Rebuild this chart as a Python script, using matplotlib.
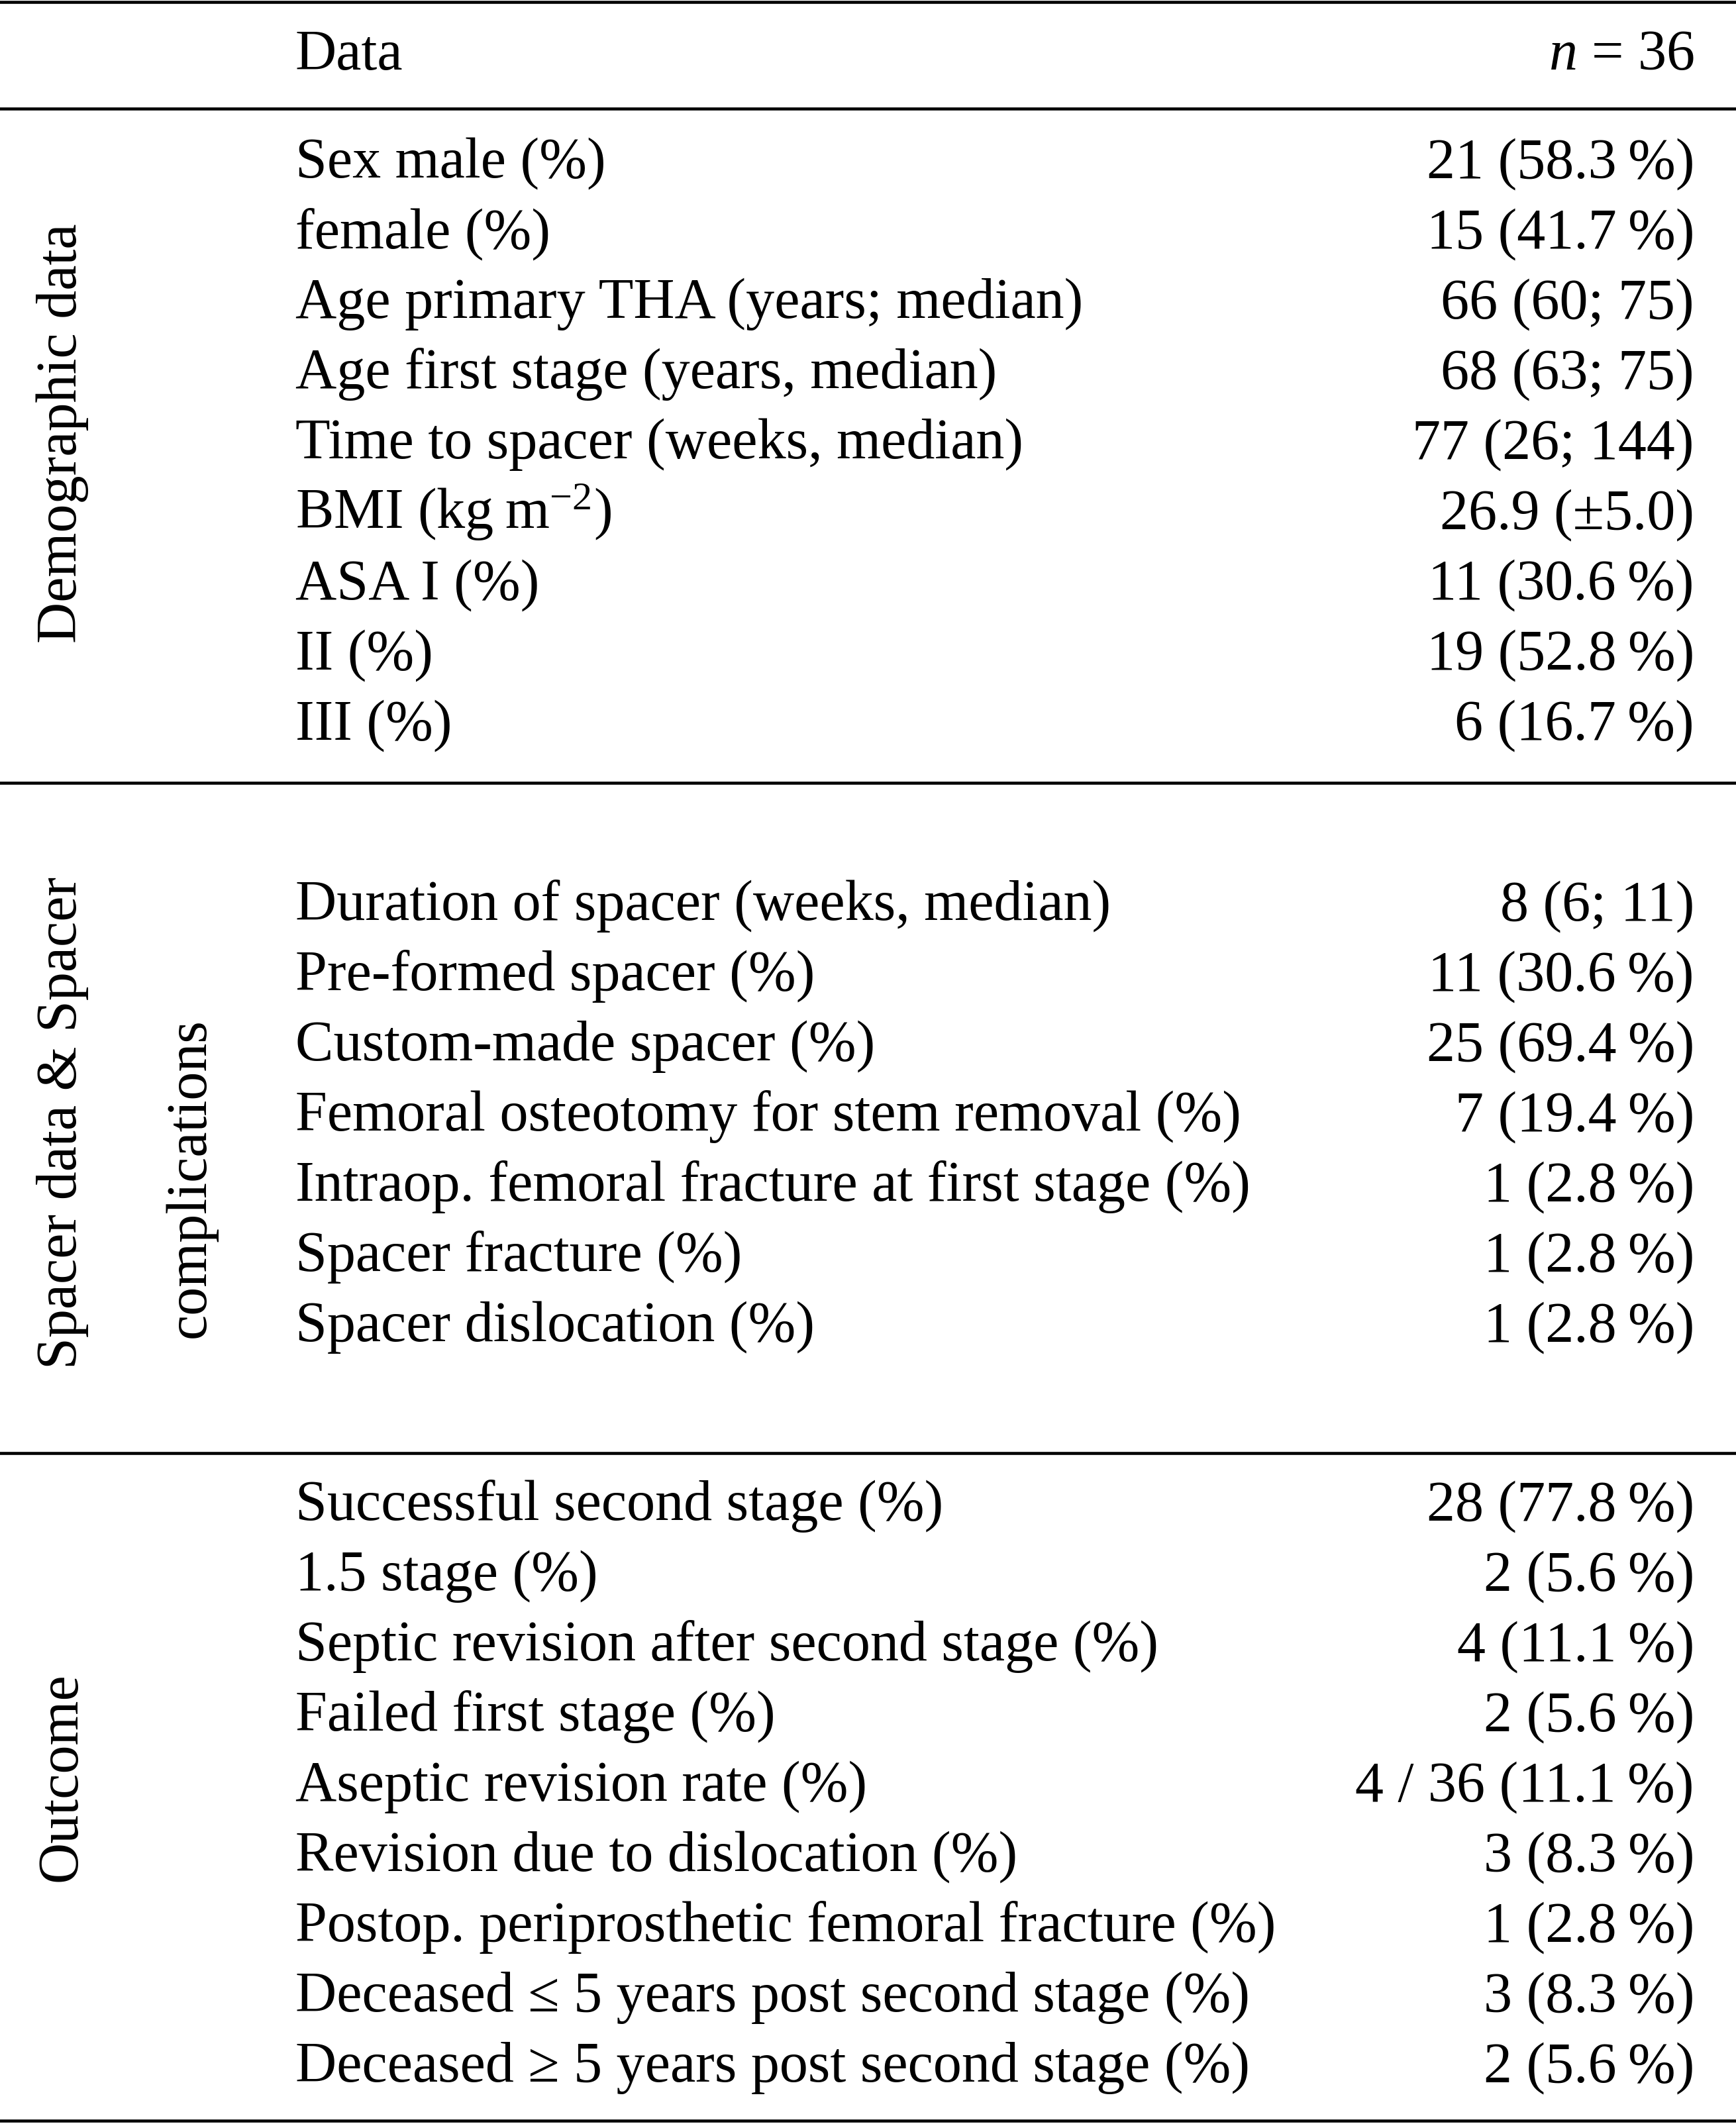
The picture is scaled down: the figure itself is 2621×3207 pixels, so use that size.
import matplotlib.pyplot as plt

plt.rcParams['font.family'] = ['Liberation Serif', 'DejaVu Serif']
plt.rcParams['mathtext.fontset'] = 'custom'
plt.rcParams['mathtext.rm'] = 'Liberation Serif'
plt.rcParams['mathtext.it'] = 'Liberation Serif:italic'

T = '\u2009'  # espaço fino antes do %

# Cabeçalho
col_head = ['Data', r'$n$ = 36']

# Grupos da tabela
grupos = ['Demographic data', 'Spacer data & Spacer\ncomplications', 'Outcome']

demo_rot = ['Sex male (%)', 'female (%)', 'Age primary THA (years; median)',
            'Age first stage (years, median)', 'Time to spacer (weeks, median)',
            'BMI (kg\u2009m$^{\\mathregular{-2}}$)', 'ASA I (%)', 'II (%)', 'III (%)']
demo_val = [f'21 (58.3{T}%)', f'15 (41.7{T}%)', '66 (60; 75)', '68 (63; 75)',
            '77 (26; 144)', '26.9 (\u00b15.0)', f'11 (30.6{T}%)',
            f'19 (52.8{T}%)', f'6 (16.7{T}%)']

spacer_rot = ['Duration of spacer (weeks, median)', 'Pre-formed spacer (%)',
              'Custom-made spacer (%)', 'Femoral osteotomy for stem removal (%)',
              'Intraop. femoral fracture at first stage (%)',
              'Spacer fracture (%)', 'Spacer dislocation (%)']
spacer_val = ['8 (6; 11)', f'11 (30.6{T}%)', f'25 (69.4{T}%)', f'7 (19.4{T}%)',
              f'1 (2.8{T}%)', f'1 (2.8{T}%)', f'1 (2.8{T}%)']

out_rot = ['Successful second stage (%)', '1.5 stage (%)',
           'Septic revision after second stage (%)', 'Failed first stage (%)',
           'Aseptic revision rate (%)', 'Revision due to dislocation (%)',
           'Postop. periprosthetic femoral fracture (%)',
           'Deceased \u2264 5 years post second stage (%)',
           'Deceased \u2265 5 years post second stage (%)']
out_val = [f'28 (77.8{T}%)', f'2 (5.6{T}%)', f'4 (11.1{T}%)', f'2 (5.6{T}%)',
           f'4 / 36 (11.1{T}%)', f'3 (8.3{T}%)', f'1 (2.8{T}%)',
           f'3 (8.3{T}%)', f'2 (5.6{T}%)']

W, H = 2621, 3207
fig = plt.figure(figsize=(W / 100, H / 100), dpi=100)
ax = fig.add_axes([0, 0, 1, 1])
ax.set_xlim(0, W)
ax.set_ylim(H, 0)
ax.axis('off')

fs = 62
x_esq = 446
x_dir = 2558
passo = 106

# Linhas horizontais
for y in [3, 164, 1182, 2194, 3202]:
    ax.axhline(y, color='black', lw=3.3)

ax.text(x_esq, 105, col_head[0], fontsize=fs, ha='left', va='baseline')
ax.text(x_dir, 105, col_head[1], fontsize=fs, ha='right', va='baseline')

blocos = [(demo_rot, demo_val, 268), (spacer_rot, spacer_val, 1389),
          (out_rot, out_val, 2295)]
for rotulos, valores, y0 in blocos:
    for i, (r, v) in enumerate(zip(rotulos, valores)):
        y = y0 + i * passo
        ax.text(x_esq, y, r, fontsize=fs, ha='left', va='baseline')
        ax.text(x_dir, y, v, fontsize=fs, ha='right', va='baseline')

# Rótulos dos grupos (girados)
ax.text(94, 654, grupos[0], fontsize=fs, rotation=90, ha='center', va='center')
l1, l2 = grupos[1].split('\n')
ax.text(94, 1695, l1, fontsize=fs, rotation=90, ha='center', va='center')
ax.text(288, 1779, l2, fontsize=fs, rotation=90, ha='center', va='center')
ax.text(94, 2683, grupos[2], fontsize=fs, rotation=90, ha='center', va='center')

fig.savefig('out.png', dpi=100)
